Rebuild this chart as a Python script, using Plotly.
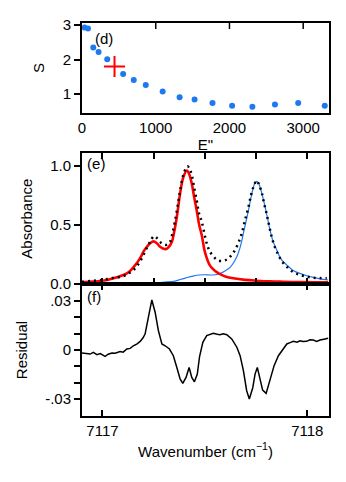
import plotly.graph_objects as go

# ---- panel (d): S vs E" ----
e_lower = [35, 81, 153, 225, 342, 558, 702, 865, 1094, 1324, 1527, 1770, 2036, 2311, 2617, 2932, 3292]
s_value = [2.93, 2.90, 2.35, 2.22, 2.01, 1.58, 1.41, 1.26, 1.07, 0.91, 0.84, 0.74, 0.66, 0.63, 0.70, 0.74, 0.66]
e_marked = [441]
s_marked = [1.80]
e_ticks = [0, 1000, 2000, 3000]

# ---- panel (e): absorbance ----
wn_red = [7116.900, 7116.950, 7116.989, 7117.023, 7117.054, 7117.086, 7117.119, 7117.140, 7117.160,
          7117.177, 7117.192, 7117.203, 7117.217, 7117.233, 7117.249, 7117.265, 7117.281, 7117.296,
          7117.309, 7117.322, 7117.339, 7117.350, 7117.363, 7117.379, 7117.395, 7117.412, 7117.423,
          7117.436, 7117.447, 7117.460, 7117.471, 7117.485, 7117.501, 7117.525, 7117.550, 7117.574,
          7117.603, 7117.639, 7117.696, 7117.753, 7117.818, 7117.883, 7117.964, 7118.038, 7118.102]
abs_red = [0.014, 0.020, 0.025, 0.034, 0.048, 0.066, 0.090, 0.120, 0.160,
           0.200, 0.245, 0.282, 0.315, 0.345, 0.360, 0.345, 0.315, 0.300,
           0.295, 0.310, 0.357, 0.440, 0.567, 0.765, 0.905, 0.960, 0.930,
           0.849, 0.740, 0.624, 0.510, 0.410, 0.265, 0.155, 0.110, 0.084,
           0.062, 0.048, 0.035, 0.028, 0.022, 0.019, 0.016, 0.015, 0.014]

wn_blue = [7116.900, 7117.038, 7117.184, 7117.247, 7117.306, 7117.355, 7117.379, 7117.408, 7117.442,
           7117.471, 7117.501, 7117.525, 7117.550, 7117.574, 7117.598, 7117.623, 7117.640, 7117.656,
           7117.672, 7117.688, 7117.701, 7117.713, 7117.725, 7117.737, 7117.745, 7117.753, 7117.762,
           7117.769, 7117.782, 7117.794, 7117.806, 7117.818, 7117.833, 7117.851, 7117.872, 7117.900,
           7117.931, 7117.964, 7117.998, 7118.029, 7118.062, 7118.102]
abs_blue = [0.003, 0.005, 0.008, 0.010, 0.016, 0.025, 0.038, 0.052, 0.067,
            0.076, 0.078, 0.076, 0.078, 0.088, 0.110, 0.140, 0.180, 0.230,
            0.310, 0.427, 0.530, 0.624, 0.730, 0.820, 0.855, 0.868, 0.855,
            0.820, 0.740, 0.652, 0.555, 0.455, 0.360, 0.287, 0.210, 0.160,
            0.115, 0.090, 0.070, 0.056, 0.044, 0.034]

wn_data = [7116.900, 7116.945, 7116.997, 7117.047, 7117.102, 7117.128, 7117.151, 7117.172, 7117.192,
           7117.208, 7117.224, 7117.238, 7117.251, 7117.262, 7117.273, 7117.289, 7117.306, 7117.318,
           7117.330, 7117.342, 7117.355, 7117.367, 7117.379, 7117.396, 7117.415, 7117.426, 7117.436,
           7117.447, 7117.460, 7117.471, 7117.485, 7117.501, 7117.513, 7117.525, 7117.550, 7117.564,
           7117.582, 7117.598, 7117.615, 7117.630, 7117.647, 7117.664, 7117.680, 7117.696, 7117.713,
           7117.725, 7117.737, 7117.753, 7117.764, 7117.777, 7117.788, 7117.801, 7117.813, 7117.826,
           7117.842, 7117.859, 7117.877, 7117.900, 7117.931, 7117.964, 7117.998, 7118.029, 7118.062,
           7118.095]
abs_data = [0.018, 0.026, 0.034, 0.050, 0.067, 0.090, 0.118, 0.160, 0.217,
            0.275, 0.330, 0.375, 0.405, 0.395, 0.370, 0.345, 0.330, 0.335,
            0.357, 0.430, 0.540, 0.660, 0.790, 0.930, 0.995, 0.970, 0.920,
            0.820, 0.708, 0.600, 0.525, 0.400, 0.320, 0.272, 0.217, 0.200,
            0.194, 0.200, 0.217, 0.245, 0.287, 0.350, 0.427, 0.540, 0.652,
            0.750, 0.820, 0.875, 0.840, 0.778, 0.690, 0.596, 0.500, 0.400,
            0.310, 0.245, 0.190, 0.146, 0.100, 0.076, 0.062, 0.053, 0.050,
            0.048]

# ---- panel (f): residual ----
wn_res = [7116.900, 7116.940, 7116.955, 7116.973, 7116.989, 7117.013, 7117.028, 7117.046, 7117.062,
          7117.086, 7117.101, 7117.119, 7117.135, 7117.151, 7117.169, 7117.184, 7117.198, 7117.208,
          7117.224, 7117.241, 7117.257, 7117.273, 7117.290, 7117.306, 7117.327, 7117.346, 7117.363,
          7117.379, 7117.392, 7117.408, 7117.423, 7117.436, 7117.449, 7117.463, 7117.474, 7117.490,
          7117.509, 7117.525, 7117.541, 7117.560, 7117.574, 7117.589, 7117.607, 7117.631, 7117.656,
          7117.672, 7117.688, 7117.704, 7117.717, 7117.734, 7117.745, 7117.756, 7117.769, 7117.782,
          7117.799, 7117.818, 7117.838, 7117.859, 7117.867, 7117.880, 7117.900, 7117.916, 7117.932,
          7117.950, 7117.964, 7117.979, 7117.997, 7118.013, 7118.029, 7118.046, 7118.062, 7118.081,
          7118.102]
residual = [-0.0018, -0.0025, -0.0015, -0.0029, -0.0022, -0.0039, -0.0026, -0.0018, -0.0020,
            -0.0010, -0.0013, 0.0006, 0.0010, 0.0026, 0.0038, 0.0053, 0.0075, 0.0098,
            0.0200, 0.0307, 0.0232, 0.0119, 0.0037, 0.0026, 0.0006, -0.0035, -0.0107,
            -0.0178, -0.0205, -0.0168, -0.0107, -0.0168, -0.0195, -0.0148, -0.0040, 0.0047,
            0.0088, 0.0095, 0.0103, 0.0097, 0.0094, 0.0099, 0.0094, 0.0068, 0.0017,
            -0.0035, -0.0127, -0.0250, -0.0301, -0.0230, -0.0148, -0.0107, -0.0168, -0.0246,
            -0.0266, -0.0189, -0.0096, -0.0035, -0.0020, 0.0006, 0.0037, 0.0045, 0.0053,
            0.0048, 0.0057, 0.0052, 0.0053, 0.0063, 0.0061, 0.0052, 0.0061, 0.0066,
            0.0072]

res_major = [0.03, 0, -0.03]
res_labels = [".03", "0", "-.03"]
res_minor = [0.02, 0.01, -0.01, -0.02]

BLUE = "#1e78f0"
FONT = "Liberation Sans, Arial, sans-serif"

W, H = 346, 482
OFF = 8  # page body margin shifts the figure by 8px
ML, MT = 82 - OFF, 23 - OFF
MR = W - (329 - OFF)
MB = round(H - (415.7 - OFF))

e_range = [0, 3350]
s_range = [0.45, 3.06]
wn_range = [7116.90, 7118.106]
abs_range = [0, 1.105]
res_range = [-0.0405, 0.0405]


def py2y(py):
    # page pixel row -> paper fraction
    return 1 - (py - OFF - MT) / (H - MT - MB)


fig = go.Figure()

# (d)
fig.add_trace(go.Scatter(x=e_lower, y=s_value, mode="markers",
                         marker=dict(color=BLUE, size=6), xaxis="x", yaxis="y"))
fig.add_trace(go.Scatter(x=e_marked, y=s_marked, mode="markers",
                         marker=dict(symbol="cross-thin", size=15, line=dict(color="red", width=2)),
                         xaxis="x", yaxis="y"))
# inward ticks along the top edge of (d)
tick_dy = 6 / 90 * (s_range[1] - s_range[0])
top_x, top_y = [], []
for v in e_ticks[1:]:
    top_x += [v, v, None]
    top_y += [s_range[1], s_range[1] - tick_dy, None]
fig.add_trace(go.Scatter(x=top_x, y=top_y, mode="lines", line=dict(color="black", width=1.5),
                         hoverinfo="skip", xaxis="x", yaxis="y"))

# (e)
fig.add_trace(go.Scatter(x=wn_blue, y=abs_blue, mode="lines", line=dict(color=BLUE, width=1.2),
                         line_shape="spline", xaxis="x2", yaxis="y2"))
fig.add_trace(go.Scatter(x=wn_red, y=abs_red, mode="lines", line=dict(color="red", width=2.6),
                         line_shape="spline", xaxis="x2", yaxis="y2"))
fig.add_trace(go.Scatter(x=wn_data, y=abs_data, mode="lines",
                         line=dict(color="black", width=2.5, dash="2px,4px"),
                         line_shape="spline", xaxis="x2", yaxis="y2"))

# (f)
fig.add_trace(go.Scatter(x=wn_res, y=residual, mode="lines", line=dict(color="black", width=1.5),
                         xaxis="x3", yaxis="y3"))

# panel letters
for lab, xa, ya, xv, yv in [("(d)", "x", "y", 176, 2.56), ("(e)", "x2", "y2", 7116.925, 1.0),
                            ("(f)", "x3", "y3", 7116.925, 0.032)]:
    fig.add_trace(go.Scatter(x=[xv], y=[yv], mode="text", text=[lab], textposition="middle right",
                             textfont=dict(family=FONT, size=15, color="black"),
                             hoverinfo="skip", xaxis=xa, yaxis=ya))


def axis(**kw):
    base = dict(showgrid=False, zeroline=False, showline=True, linecolor="black", linewidth=2,
                mirror=True, tickcolor="black", tickwidth=1.5, ticklen=6, automargin=False,
                tickfont=dict(family=FONT, size=15, color="black"))
    base.update(kw)
    return base


title_font = dict(family=FONT, size=15, color="black")

fig.update_layout(
    width=W, height=H,
    margin=dict(l=ML, r=MR, t=MT, b=MB),
    plot_bgcolor="white", paper_bgcolor="white",
    showlegend=False,
    font=dict(family=FONT, size=15, color="black"),
    xaxis=axis(domain=[0, 1], anchor="y", range=e_range, ticks="", tickvals=e_ticks,
               title=dict(text='E"', font=title_font, standoff=4)),
    yaxis=axis(domain=[py2y(113), 1], anchor="x", range=s_range, ticks="outside", tickvals=[1, 2, 3],
               title=dict(text="S", font=title_font, standoff=14)),
    xaxis2=axis(domain=[0, 1], anchor="y2", range=wn_range, ticks="inside", tick0=7117, dtick=0.25,
                showticklabels=False, mirror="ticks"),
    yaxis2=axis(domain=[py2y(284), py2y(153.3)], anchor="x2", range=abs_range, ticks="outside",
                tickvals=[0, 0.5, 1.0], ticktext=["0.0", "0.5", "1.0"],
                title=dict(text="Absorbance", font=title_font, standoff=14)),
    xaxis3=axis(domain=[0, 1], anchor="y3", range=wn_range, ticks="inside",
                tickvals=[7117, 7118], ticktext=["7117", "7118"], mirror="ticks",
                title=dict(text="Wavenumber (cm<sup>\u22121</sup>)", font=title_font, standoff=8)),
    yaxis3=axis(domain=[0, py2y(284)], anchor="x3", range=res_range, ticks="outside",
                tickvals=res_major, ticktext=res_labels,
                minor=dict(tickvals=res_minor, ticks="outside", ticklen=6, tickwidth=1.5,
                           tickcolor="black", showgrid=False),
                title=dict(text="Residual", font=title_font, standoff=14)),
)

fig.write_html("out.html")
